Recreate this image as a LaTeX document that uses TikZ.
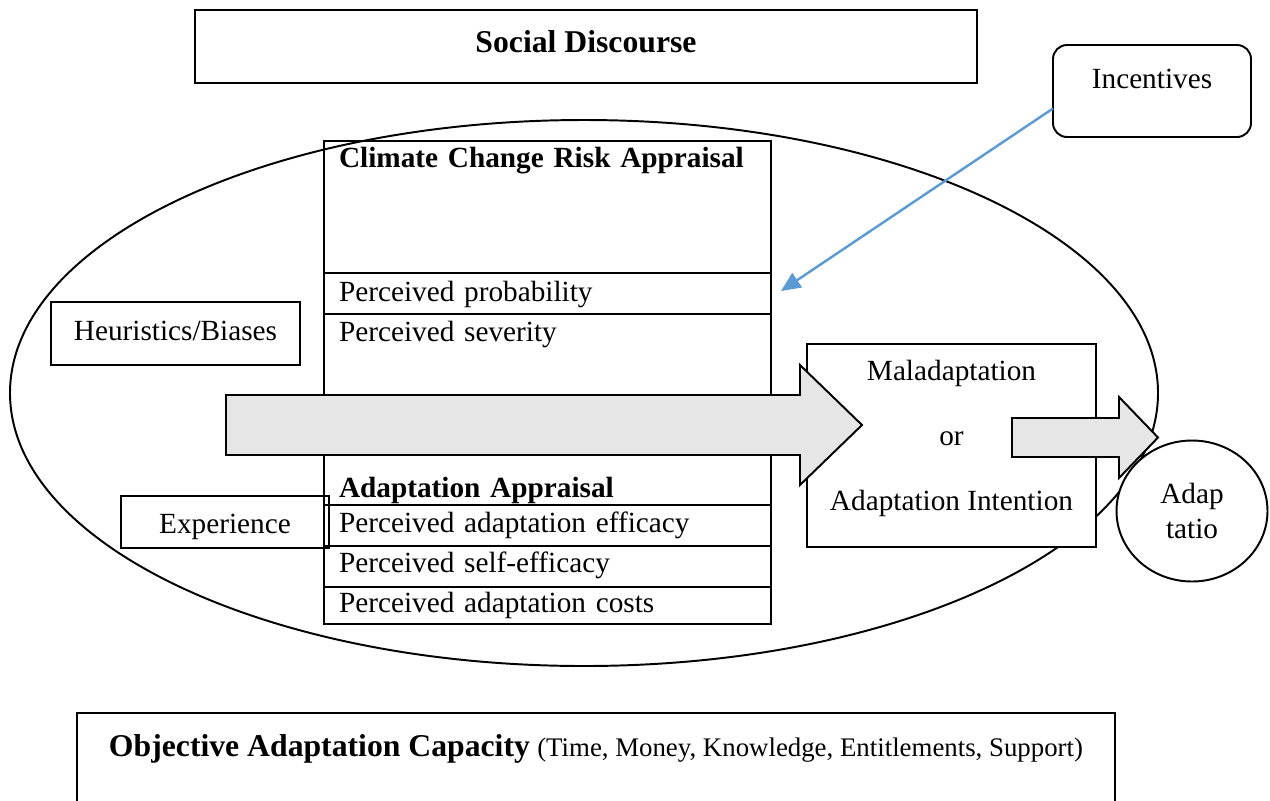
\documentclass[tikz,border=0pt]{standalone}
\usepackage{fontspec}
\setmainfont{Liberation Serif}
\usetikzlibrary{arrows.meta,positioning,shapes.geometric}
\newcommand{\pxu}{0.41pt}
\definecolor{arrowgray}{HTML}{E6E6E6}
\definecolor{incblue}{HTML}{5B9BD5}
\tikzset{
    %Define style for framed boxes
    box/.style={
           rectangle,
           draw=black, line width=0.8pt,
           inner sep=0pt, outer sep=0pt,
           align=center},
    %Define style for the rows of the appraisal column
    row/.style n args={2}{
           box,
           anchor=north,
           inner xsep=15*\pxu,
           text width=417*\pxu,
           align=left,
           text height=#1*\pxu,
           text depth=#2*\pxu},
    %Define style for the grey block arrows
    blockarrow/.style={
           draw=black, line width=0.8pt,
           fill=arrowgray,
           line join=miter},
    % Define arrow style
    pil/.style={
           -{Triangle[length=8pt,width=7pt]},
           draw=incblue, line width=1pt}
}
\begin{document}
\begin{tikzpicture}[x=\pxu, y=-\pxu, font=\fontsize{12}{14}\selectfont]
\clip (0,0) rectangle (1270,800);
 %boxes on top
\node[box, minimum width=782*\pxu, text height=42*\pxu, text depth=31*\pxu, font=\fontsize{13}{15}\selectfont\bfseries] (soc) at (586,46.5) {Social Discourse};
\node[box, rounded corners=14*\pxu, minimum width=198*\pxu, text height=43*\pxu, text depth=49*\pxu] (inc) at (1152,91) {Incentives};
 %the big ellipse
\node[draw, ellipse, line width=0.8pt, minimum width=1148*\pxu, minimum height=546*\pxu, inner sep=0pt] (scene) at (584,393) {};
 %appraisal column
\node[row={26}{106}, font=\fontsize{12}{14}\selectfont\bfseries] (risk) at (547.5,141) {Climate Change Risk Appraisal};
\node[row={28}{13}, below=0pt of risk] (prob) {Perceived probability};
\node[row={27}{84}, below=0pt of prob] (sev) {Perceived severity};
\node[row={72}{8}, below=0pt of sev, font=\fontsize{12}{14}\selectfont\bfseries] (adapt) {Adaptation Appraisal};
\node[row={27}{14}, below=0pt of adapt] (eff) {Perceived adaptation efficacy};
\node[row={26}{15}, below=0pt of eff] (self) {Perceived self-efficacy};
\node[row={25}{12}, below=0pt of self] (cost) {Perceived adaptation costs};
 %side boxes
\node[box, minimum width=249*\pxu, text height=38*\pxu, text depth=25*\pxu] (heur) at (175.5,333.5) {Heuristics/Biases};
\node[box, minimum width=208*\pxu, text height=37*\pxu, text depth=15*\pxu] (exp) at (225,522) {Experience};
\node[box, fill=white, minimum width=289*\pxu, minimum height=203*\pxu, text depth=8pt, font=\fontsize{12}{26.65}\selectfont] (mal) at (951.5,445.5) {Maladaptation\\or\\Adaptation Intention};
\node[draw, ellipse, line width=0.8pt, fill=white, minimum width=151*\pxu, minimum height=141*\pxu, inner sep=0pt, align=center, font=\fontsize{12}{14.35}\selectfont] (act) at (1192,511) {Adap\\tatio};
 %block arrows
\draw[blockarrow] (226,395) -- (800,395) -- (800,365) -- (862,425) -- (800,485) -- (800,455) -- (226,455) -- cycle;
\draw[blockarrow] (1012,418) -- (1119,418) -- (1119,397) -- (1158,437.5) -- (1119,478) -- (1119,457) -- (1012,457) -- cycle;
 %incentives arrow
\coordinate (probtip) at (781,291);
\draw[pil] (inc.190) -- (probtip);
 %capacity box at the bottom
\node[box, minimum width=1038*\pxu, text height=43*\pxu, text depth=77*\pxu] (cap) at (596,773) {{\fontsize{13}{15}\selectfont\bfseries Objective Adaptation Capacity} {\fontsize{11}{13}\selectfont(Time, Money, Knowledge, Entitlements, Support)}};
\end{tikzpicture}
\end{document}
